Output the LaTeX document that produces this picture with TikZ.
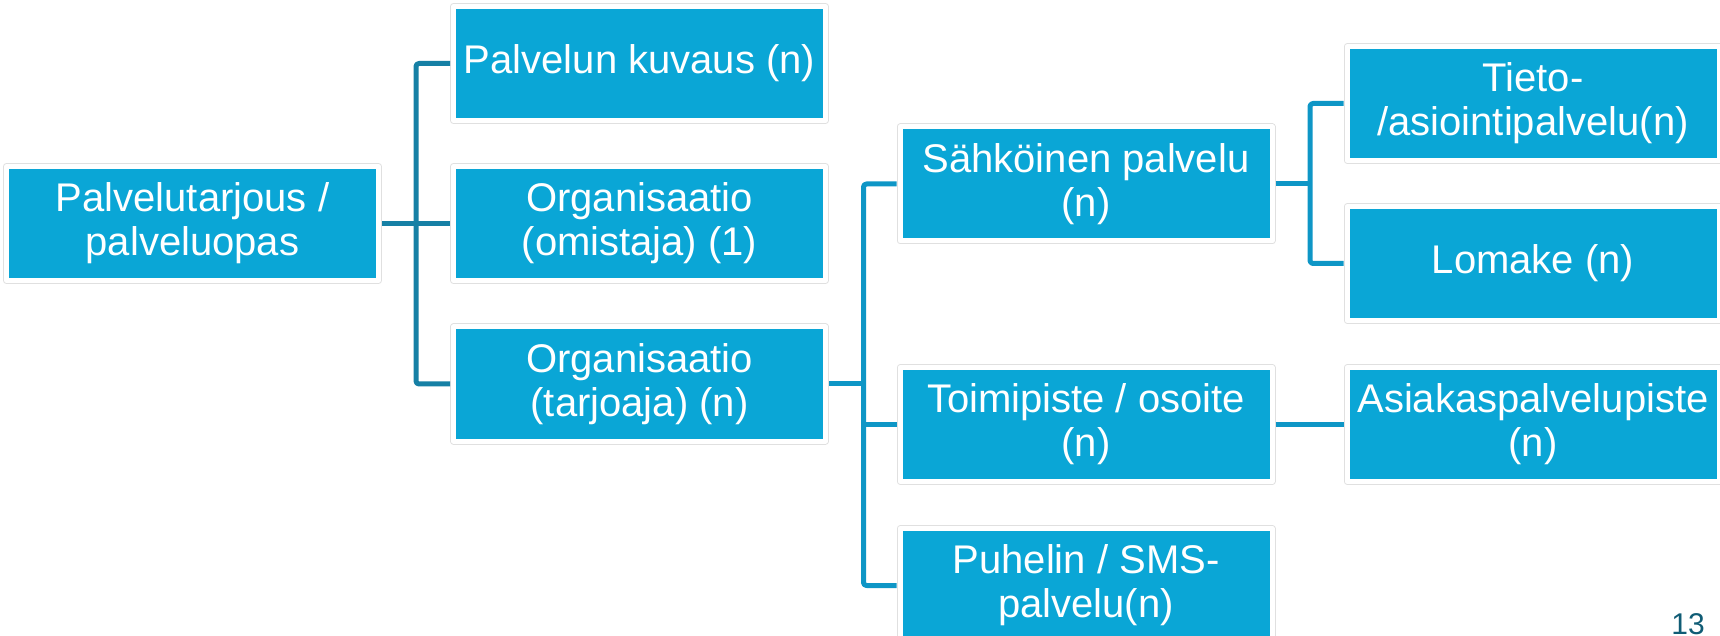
\documentclass[tikz,border=0pt]{standalone}
\usepackage{fontspec}
\setmainfont{Liberation Sans}
\definecolor{boxblue}{RGB}{10,166,214}
\definecolor{linedark}{RGB}{22,128,165}
\definecolor{lineblue}{RGB}{14,150,198}
\definecolor{pagecol}{RGB}{16,92,117}
\begin{document}
\begin{tikzpicture}[x=0.5pt,y=-0.5pt,line join=round,line cap=round,
		boks/.style={fill=boxblue,draw=white,line width=2.5pt,preaction={draw=black!12,line width=3.5pt},
			minimum width=186pt,minimum height=57pt,inner sep=0pt,outer sep=1.75pt,
			text=white,align=center,font=\fontsize{20}{22}\selectfont},
		viiva/.style={draw=lineblue,line width=2.5pt,line cap=butt,rounded corners=1.5pt}]
			\useasboundingbox (0,0) rectangle (1720,636);
			\node[boks] (root) at (192.5,223.5) {Palvelutarjous /\\palveluopas};
			\node[boks] (kuvaus) at (639.5,63.5) {Palvelun kuvaus (n)};
			\node[boks] (omistaja) at (639.5,223.5) {Organisaatio\\(omistaja) (1)};
			\node[boks] (tarjoaja) at (639.5,384) {Organisaatio\\(tarjoaja) (n)};
			\node[boks] (sahko) at (1086,184) {Sähköinen palvelu\\(n)};
			\node[boks] (toimi) at (1086,424.5) {Toimipiste / osoite\\(n)};
			\node[boks] (puhelin) at (1086,585.5) {Puhelin / SMS-\\palvelu(n)};
			\node[boks] (tieto) at (1533,103.5) {Tieto-\\/asiointipalvelu(n)};
			\node[boks] (lomake) at (1533,263.5) {Lomake (n)};
			\node[boks] (asiakas) at (1533,424.5) {Asiakaspalvelupiste\\(n)};
			\coordinate (j1) at (416,223.5);
			\coordinate (j2) at (863.5,384);
			\coordinate (j3) at (1310,184);
			\draw[viiva,draw=linedark] (kuvaus.west) -| (j1) |- (tarjoaja.west);
			\draw[viiva,draw=linedark] (root.east) -- (omistaja.west);
			\draw[viiva] (sahko.west) -| (j2) |- (puhelin.west);
			\draw[viiva] (tarjoaja.east) -- (j2);
			\draw[viiva] (j2 |- toimi.west) -- (toimi.west);
			\draw[viiva] (tieto.west) -| (j3) |- (lomake.west);
			\draw[viiva] (sahko.east) -- (j3);
			\draw[viiva] (toimi.east) -- (asiakas.west);
			\node[text=pagecol,font=\fontsize{15}{15}\selectfont,anchor=base,inner sep=0pt] (sivu) at (1688,634) {13};
		\end{tikzpicture}
\end{document}
